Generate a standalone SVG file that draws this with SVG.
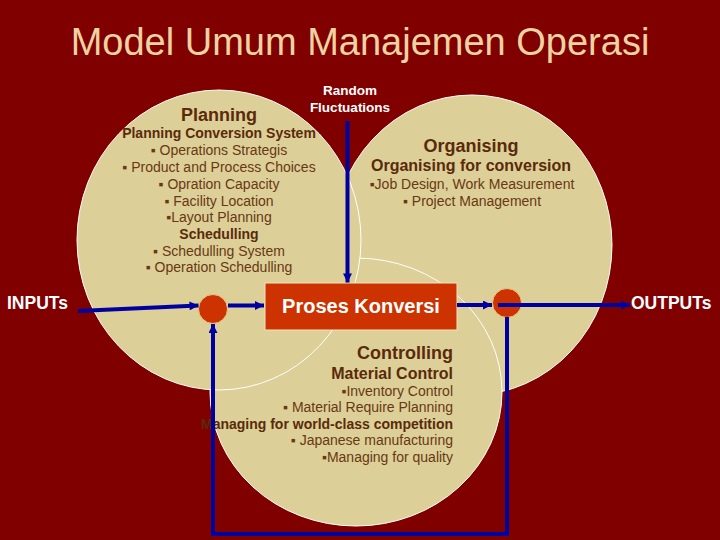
<svg xmlns="http://www.w3.org/2000/svg" width="720" height="540" viewBox="0 0 720 540">
<style>
text{font-family:"Liberation Sans",Arial,sans-serif}
.lobe{fill:#DCCF98;stroke:#FFFFFF;stroke-width:1}
.h1{font-size:18px;font-weight:bold;fill:#5A2A0A}
.h2{font-size:14px;font-weight:bold;fill:#5A2A0A}
.h3{font-size:16px;font-weight:bold;fill:#5A2A0A}
.b{font-size:14px;fill:#6A3812}
.w{font-weight:bold;fill:#FFFFFF}
.conn{fill:none;stroke:#0000A0;stroke-width:4}
.junc{fill:#CC3300;stroke:#E6C88E;stroke-width:1}
</style>
<defs>
<marker id="ah" viewBox="0 0 10 10" refX="10" refY="5" markerWidth="10" markerHeight="9" markerUnits="userSpaceOnUse" orient="auto">
<path d="M0,0 L10,5 L0,10 z" fill="#0000A0"/>
</marker>
</defs>
<rect width="720" height="540" fill="#800000"/>
<text id="title" x="360" y="55" text-anchor="middle" style="font-size:38px;fill:#EFD2A2">Model Umum Manajemen Operasi</text>

<g id="organising">
<ellipse class="lobe" cx="472" cy="245" rx="140" ry="150"/>
<g text-anchor="middle">
<text class="h1" x="471" y="152">Organising</text>
<text class="h3" x="471" y="171">Organising for conversion</text>
<text class="b" x="472" y="188.5">▪Job Design, Work Measurement</text>
<text class="b" x="472" y="205.5">▪ Project Management</text>
</g>
</g>

<g id="controlling">
<ellipse class="lobe" cx="356" cy="392" rx="146" ry="134"/>
<g text-anchor="end">
<text class="h1" x="453" y="358.5">Controlling</text>
<text class="h3" x="453" y="378.5">Material Control</text>
<text class="b" x="453" y="395.7">▪Inventory Control</text>
<text class="b" x="453" y="412.3">▪ Material Require Planning</text>
<text class="h2" x="453" y="428.5">Managing for world-class competition</text>
<text class="b" x="453" y="445">▪ Japanese manufacturing</text>
<text class="b" x="453" y="461.7">▪Managing for quality</text>
</g>
</g>

<g id="planning">
<ellipse class="lobe" cx="219" cy="240" rx="142" ry="150"/>
<g text-anchor="middle">
<text class="h1" x="219" y="121">Planning</text>
<text class="h2" x="219" y="138">Planning Conversion System</text>
<text class="b" x="219" y="155">▪ Operations Strategis</text>
<text class="b" x="219" y="171.7">▪ Product and Process Choices</text>
<text class="b" x="219" y="189">▪ Opration Capacity</text>
<text class="b" x="219" y="205.7">▪ Facility Location</text>
<text class="b" x="219" y="222.3">▪Layout Planning</text>
<text class="h2" x="219" y="239">Schedulling</text>
<text class="b" x="219" y="255.7">▪ Schedulling System</text>
<text class="b" x="219" y="272.3">▪ Operation Schedulling</text>
</g>
</g>

<g id="random-fluctuations">
<text class="w" x="350" y="95" text-anchor="middle" style="font-size:13.5px">Random</text>
<text class="w" x="350" y="111.5" text-anchor="middle" style="font-size:13.5px">Fluctuations</text>
</g>
<g id="inputs"><text class="w" x="7" y="309" style="font-size:17.5px">INPUTs</text></g>
<g id="outputs"><text class="w" x="631" y="308.5" style="font-size:17.5px">OUTPUTs</text></g>

<g id="proses-konversi">
<rect x="265" y="283" width="192" height="47" fill="#CC3300" stroke="#F2E2C0" stroke-width="1"/>
<text class="w" x="361" y="313" text-anchor="middle" style="font-size:20px">Proses Konversi</text>
</g>
<g id="junction-in"><circle class="junc" cx="213" cy="309" r="14.5"/></g>
<g id="junction-out"><circle class="junc" cx="507" cy="303" r="14.5"/></g>

<g id="connectors">
<line class="conn" x1="347.5" y1="121" x2="347.5" y2="282.5" marker-end="url(#ah)"/>
<line class="conn" x1="78" y1="311" x2="198.5" y2="305.5" marker-end="url(#ah)"/>
<line class="conn" x1="228" y1="305.5" x2="264" y2="305.5" marker-end="url(#ah)"/>
<line class="conn" x1="457" y1="305" x2="492" y2="305" marker-end="url(#ah)"/>
<line class="conn" x1="498" y1="305" x2="630" y2="305" marker-end="url(#ah)"/>
<polyline class="conn" points="507,317 507,534 213,534 213,324" marker-end="url(#ah)"/>
</g>
</svg>
